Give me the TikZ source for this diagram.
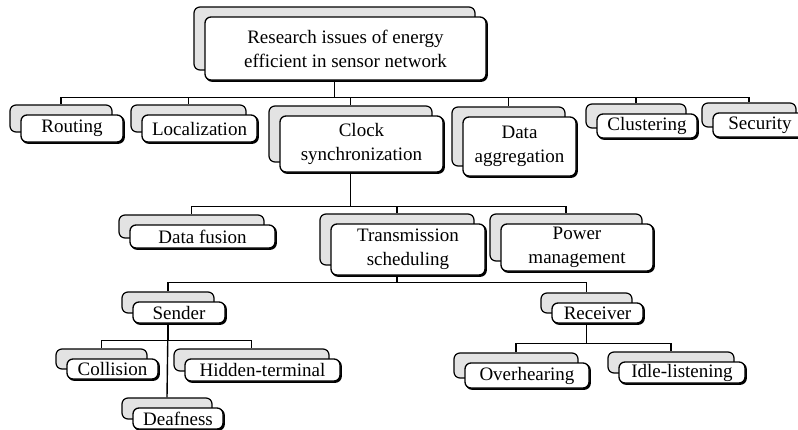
\documentclass[tikz,border=0pt]{standalone}
\usepackage{fontspec}
\setmainfont{Liberation Serif}
\usetikzlibrary{shadows}

\tikzset{
    issue/.style={draw, fill=white, rounded corners=6pt, line width=1.3pt,
        inner sep=0pt, align=center, font=\fontsize{19}{24}\selectfont,
        general shadow={shadow xshift=-11pt, shadow yshift=10pt, fill=gray!22, draw=black, line width=1.2pt},
        general shadow={shadow xshift=1.2pt, shadow yshift=-1.2pt, fill=black, draw=black, line width=1.3pt}},
    link/.style={line width=1.4pt}
}

\begin{document}
\begin{tikzpicture}[x=1pt,y=-1pt]
        \useasboundingbox (0,0) rectangle (798,429);
        \clip (0,0) rectangle (798,429);

        \node[issue, minimum width=281, minimum height=63] (root) at (345.5,48.5) {Research issues of energy\\efficient in sensor network};

        \node[issue, minimum width=102, minimum height=27] (routing) at (72,128.5) {Routing};
        \node[issue, minimum width=115, minimum height=27] (localization) at (199.5,128.5) {Localization};
        \node[issue, minimum width=163, minimum height=56] (clock) at (361.5,144) {Clock\\synchronization};
        \node[issue, minimum width=113, minimum height=59] (aggregation) at (519.5,146.5) {Data\\aggregation};
        \node[issue, minimum width=100, minimum height=24] (clustering) at (647,126) {Clustering};
        \node[issue, minimum width=94, minimum height=24] (security) at (760,125) {Security};

        \node[issue, minimum width=145, minimum height=23] (fusion) at (202.5,236.5) {Data fusion};
        \node[issue, minimum width=154, minimum height=51] (transmission) at (408,249.5) {Transmission\\scheduling};
        \node[issue, minimum width=152, minimum height=47] (power) at (577,247.5) {Power\\management};

        \node[issue, minimum width=92, minimum height=21] (sender) at (179,312.5) {Sender};
        \node[issue, minimum width=91, minimum height=20] (receiver) at (597.5,313) {Receiver};

        \node[issue, minimum width=91, minimum height=20] (collision) at (112.5,369) {Collision};
        \node[issue, minimum width=155, minimum height=22] (hidden) at (262.5,370) {Hidden-terminal};
        \node[issue, minimum width=90, minimum height=21] (deafness) at (178,418.5) {Deafness};
        \node[issue, minimum width=124, minimum height=25] (overhearing) at (527,375.5) {Overhearing};
        \node[issue, minimum width=126, minimum height=21] (idle) at (682,372.5) {Idle-listening};

        \foreach \c in {routing,localization,clock,aggregation,clustering,security}
            \draw[link] ([xshift=-11pt]root.south) -- ++(0,17) -| ([xshift=-11pt,yshift=10pt]\c.north);
        \foreach \c in {fusion,transmission,power}
            \draw[link] ([xshift=-11pt]clock.south) -- ++(0,34) -| ([xshift=-11pt,yshift=10pt]\c.north);
        \foreach \c in {sender,receiver}
            \draw[link] ([xshift=-11pt]transmission.south) -- ++(0,7) -| ([xshift=-11pt,yshift=10pt]\c.north);
        \foreach \c in {collision,hidden}
            \draw[link] ([xshift=-11pt]sender.south) -- ++(0,17) -| ([xshift=-11pt,yshift=10pt]\c.north);
        \draw[link] ([xshift=-11pt]sender.south) -- ([xshift=-11pt,yshift=10pt]deafness.north);
        \foreach \c in {overhearing,idle}
            \draw[link] ([xshift=-11pt]receiver.south) -- ++(0,20) -| ([xshift=-11pt,yshift=10pt]\c.north);
    \end{tikzpicture}
\end{document}
